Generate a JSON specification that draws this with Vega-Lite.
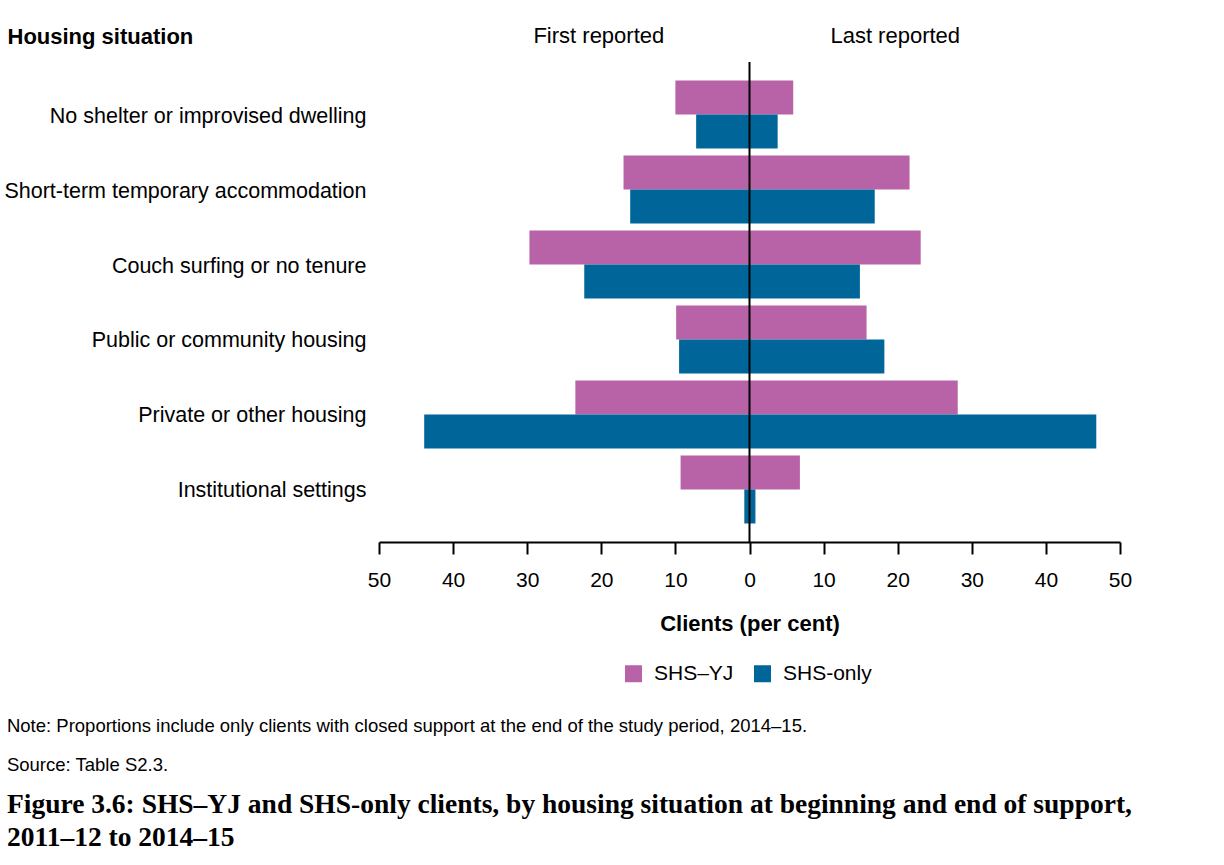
{
  "$schema": "https://vega.github.io/schema/vega-lite/v6.json",
  "autosize": {"type": "none"},
  "width": 741,
  "height": 480,
  "padding": {"left": 379, "top": 62, "right": 104, "bottom": 323},
  "background": "white",
  "config": {
    "view": {"stroke": null},
    "font": "Liberation Sans",
    "axis": {"labelFont": "Liberation Sans", "titleFont": "Liberation Sans"},
    "legend": {"labelFont": "Liberation Sans"}
  },
  "title": {
    "text": ["Note: Proportions include only clients with closed support at the end of the study period, 2014–15.", "Source: Table S2.3."],
    "subtitle": ["Figure 3.6: SHS–YJ and SHS-only clients, by housing situation at beginning and end of support,", "2011–12 to 2014–15"],
    "orient": "bottom",
    "anchor": "start",
    "baseline": "top",
    "offset": 33,
    "dx": 3,
    "font": "Liberation Sans",
    "fontSize": 18.5,
    "fontWeight": "normal",
    "color": "black",
    "lineHeight": 39,
    "subtitleFont": "Liberation Serif",
    "subtitleFontSize": 27.5,
    "subtitleFontWeight": "bold",
    "subtitleColor": "black",
    "subtitleLineHeight": 33,
    "subtitlePadding": 16
  },
  "data": {
    "values": [
      {"housing": "No shelter or improvised dwelling", "group": "SHS–YJ", "period": "First reported", "value": -10.0},
      {"housing": "No shelter or improvised dwelling", "group": "SHS–YJ", "period": "Last reported", "value": 5.9},
      {"housing": "No shelter or improvised dwelling", "group": "SHS-only", "period": "First reported", "value": -7.2},
      {"housing": "No shelter or improvised dwelling", "group": "SHS-only", "period": "Last reported", "value": 3.8},
      {"housing": "Short-term temporary accommodation", "group": "SHS–YJ", "period": "First reported", "value": -17.0},
      {"housing": "Short-term temporary accommodation", "group": "SHS–YJ", "period": "Last reported", "value": 21.6},
      {"housing": "Short-term temporary accommodation", "group": "SHS-only", "period": "First reported", "value": -16.1},
      {"housing": "Short-term temporary accommodation", "group": "SHS-only", "period": "Last reported", "value": 16.9},
      {"housing": "Couch surfing or no tenure", "group": "SHS–YJ", "period": "First reported", "value": -29.7},
      {"housing": "Couch surfing or no tenure", "group": "SHS–YJ", "period": "Last reported", "value": 23.1},
      {"housing": "Couch surfing or no tenure", "group": "SHS-only", "period": "First reported", "value": -22.3},
      {"housing": "Couch surfing or no tenure", "group": "SHS-only", "period": "Last reported", "value": 14.9},
      {"housing": "Public or community housing", "group": "SHS–YJ", "period": "First reported", "value": -9.9},
      {"housing": "Public or community housing", "group": "SHS–YJ", "period": "Last reported", "value": 15.8},
      {"housing": "Public or community housing", "group": "SHS-only", "period": "First reported", "value": -9.5},
      {"housing": "Public or community housing", "group": "SHS-only", "period": "Last reported", "value": 18.2},
      {"housing": "Private or other housing", "group": "SHS–YJ", "period": "First reported", "value": -23.5},
      {"housing": "Private or other housing", "group": "SHS–YJ", "period": "Last reported", "value": 28.1},
      {"housing": "Private or other housing", "group": "SHS-only", "period": "First reported", "value": -43.9},
      {"housing": "Private or other housing", "group": "SHS-only", "period": "Last reported", "value": 46.8},
      {"housing": "Institutional settings", "group": "SHS–YJ", "period": "First reported", "value": -9.3},
      {"housing": "Institutional settings", "group": "SHS–YJ", "period": "Last reported", "value": 6.8},
      {"housing": "Institutional settings", "group": "SHS-only", "period": "First reported", "value": -0.7},
      {"housing": "Institutional settings", "group": "SHS-only", "period": "Last reported", "value": 0.8}
    ]
  },
  "layer": [
    {
      "mark": {"type": "bar"},
      "encoding": {
        "y": {
          "field": "housing",
          "type": "nominal",
          "sort": ["No shelter or improvised dwelling", "Short-term temporary accommodation", "Couch surfing or no tenure", "Public or community housing", "Private or other housing", "Institutional settings"],
          "scale": {"paddingInner": 0.093, "paddingOuter": 0.247},
          "axis": {
            "title": "Housing situation",
            "titleAngle": 0,
            "titleAlign": "left",
            "titleBaseline": "alphabetic",
            "titleX": -372,
            "titleY": -19,
            "titleFontSize": 22,
            "titleFontWeight": "bold",
            "titleColor": "black",
            "labelFontSize": 21.5,
            "labelColor": "black",
            "labelPadding": 13,
            "labelOffset": 2,
            "labelLimit": 400,
            "ticks": false,
            "tickSize": 0,
            "domain": false,
            "grid": false
          }
        },
        "yOffset": {
          "field": "group",
          "type": "nominal",
          "sort": ["SHS–YJ", "SHS-only"],
          "scale": {"paddingInner": 0, "paddingOuter": 0}
        },
        "x": {
          "field": "value",
          "type": "quantitative",
          "scale": {"domain": [-50, 50], "nice": false, "zero": false},
          "axis": {
            "orient": "bottom",
            "values": [-50, -40, -30, -20, -10, 0, 10, 20, 30, 40, 50],
            "labelExpr": "abs(datum.value)",
            "title": "Clients (per cent)",
            "titleFontSize": 22,
            "titleFontWeight": "bold",
            "titleColor": "black",
            "titlePadding": 23,
            "labelFontSize": 21,
            "labelColor": "black",
            "labelPadding": 15,
            "labelFlush": false,
            "tickColor": "black",
            "tickWidth": 2,
            "tickSize": 12,
            "domainColor": "black",
            "domainWidth": 2,
            "grid": false
          }
        },
        "color": {
          "field": "group",
          "type": "nominal",
          "scale": {"domain": ["SHS–YJ", "SHS-only"], "range": ["#B862A8", "#006699"]},
          "legend": {
            "title": null,
            "orient": "none",
            "legendX": 244,
            "legendY": 601,
            "direction": "horizontal",
            "symbolType": "square",
            "symbolSize": 289,
            "symbolStrokeWidth": 0,
            "labelFontSize": 21,
            "labelColor": "black",
            "labelOffset": 10,
            "columnPadding": 18,
            "padding": 0
          }
        }
      }
    },
    {
      "data": {"values": [{"zero": 0}]},
      "mark": {"type": "rule", "color": "black", "strokeWidth": 2},
      "encoding": {
        "x": {
          "field": "zero",
          "type": "quantitative",
          "axis": {
            "orient": "top",
            "values": [-20.4, 19.6],
            "labelExpr": "datum.value < 0 ? 'First reported' : 'Last reported'",
            "title": null,
            "ticks": false,
            "tickSize": 0,
            "domain": false,
            "grid": false,
            "labelFontSize": 22,
            "labelColor": "black",
            "labelPadding": 15
          }
        }
      }
    }
  ],
  "resolve": {"axis": {"x": "independent"}}
}
